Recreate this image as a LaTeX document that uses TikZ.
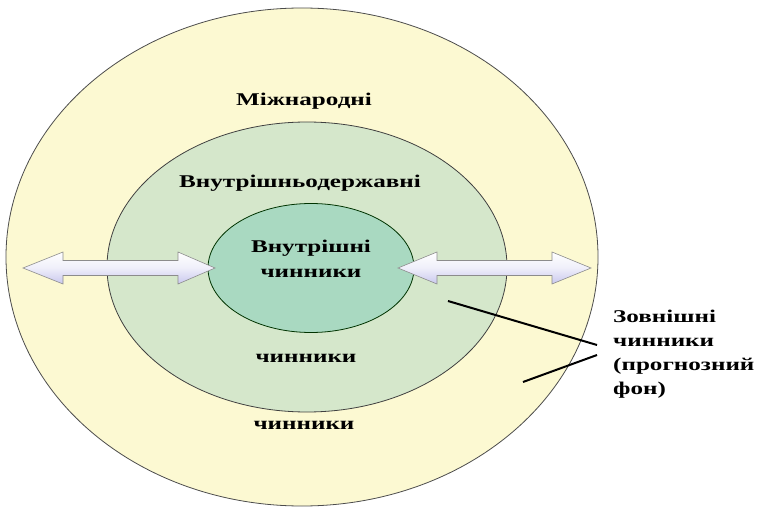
\documentclass[tikz,border=0pt]{standalone}
\usepackage{fontspec}
\setmainfont{Liberation Serif}
\newfontfamily\lblfont[FakeStretch=1.4]{Liberation Serif}
\usetikzlibrary{shapes.geometric}
\definecolor{outerfill}{HTML}{FCF9D2}
\definecolor{midfill}{HTML}{D5E7CB}
\definecolor{innerfill}{HTML}{A9D9C1}
\definecolor{arrowbot}{HTML}{C9C8EE}
\tikzset{
  ring/.style={ellipse, inner sep=0pt, line width=0.8bp},
  lbl/.style={font=\lblfont\bfseries\fontsize{18}{24}\selectfont, inner sep=0pt},
  dblarrow/.style={draw=black!45, line width=0.6bp, top color=white, bottom color=arrowbot, middle color=white!70!arrowbot},
  pointer/.style={line width=2bp, black}
}
\begin{document}
\begin{tikzpicture}[x=1bp,y=-1bp]
\useasboundingbox (0,0) rectangle (759,509);
\node[ring, draw=black!70, fill=outerfill, minimum width=592bp, minimum height=498bp] (outer) at (302,257) {};
\node[ring, draw=black!75, fill=midfill, minimum width=400bp, minimum height=290bp] (mid) at (307,267) {};
\node[ring, draw=black!80!green, fill=innerfill, minimum width=206bp, minimum height=129bp] (inner) at (311,268) {};
% arrows
\path[dblarrow] (23,268) -- (63,252) -- (63,260.5) -- (178,260.5) -- (178,252) -- (215,268)
  -- (178,284) -- (178,275.5) -- (63,275.5) -- (63,284) -- cycle;
\path[dblarrow] (398,268) -- (437,252) -- (437,260.5) -- (552,260.5) -- (552,252) -- (591,268)
  -- (552,284) -- (552,275.5) -- (437,275.5) -- (437,284) -- cycle;
% texts
\node[lbl] (t1) at (304,101) {Міжнародні};
\node[lbl] (t2) at (300,183) {Внутрішньодержавні};
\node[lbl] (t3) at (311,248) {Внутрішні};
\node[lbl] (t4) at (311,273) {чинники};
\node[lbl] (t5) at (306,358) {чинники};
\node[lbl] (t6) at (304,425) {чинники};
\node[lbl, align=left, anchor=north west] (ext) at (613,310) {Зовнішні\\чинники\\(прогнозний\\фон)};
\coordinate (p1) at (448,301);
\coordinate (p2) at (523,382);
\coordinate (e1) at (597,345);
\coordinate (e2) at (597,355);
\draw[pointer] (p1) -- (e1);
\draw[pointer] (p2) -- (e2);
\end{tikzpicture}
\end{document}
